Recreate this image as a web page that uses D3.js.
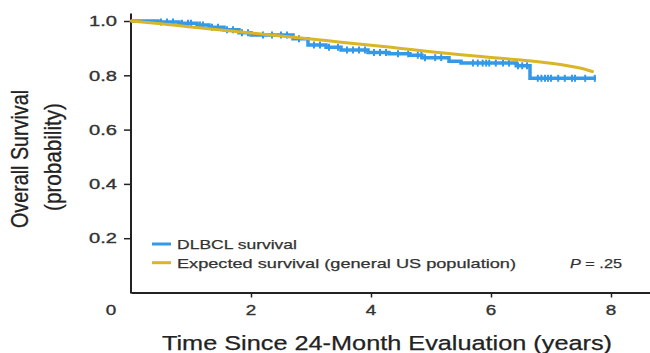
<!DOCTYPE html>
<html>
<head>
<meta charset="utf-8">
<script src="https://cdn.jsdelivr.net/npm/d3@7/dist/d3.min.js"></script>
<style>
  html, body { margin: 0; padding: 0; background: #fff; }
  svg { display: block; }
</style>
</head>
<body>
<svg id="chart" width="650" height="353"></svg>
<script>
// Kaplan-Meier estimate for the DLBCL cohort (step changes)
const kmTimes    = [0, 0.45, 0.8, 1.1, 1.3, 1.55, 1.8, 2.0, 2.7, 2.95, 3.25, 3.5, 3.95, 4.3, 4.65, 4.85, 5.3, 5.5, 6.42, 6.65, 7.75];
const kmSurvival = [1.0, 0.996, 0.992, 0.985, 0.977, 0.968, 0.957, 0.948, 0.935, 0.912, 0.903, 0.893, 0.884, 0.879, 0.874, 0.865, 0.852, 0.845, 0.835, 0.789, 0.789];

// Censored observations (years)
const censorTimes = [0.5, 0.6, 0.7, 0.85, 0.95, 1.0, 1.15, 1.2, 1.35, 1.45, 1.6, 1.7, 1.85, 1.95,
  2.2, 2.35, 2.5, 2.6, 2.8, 3.05, 3.15, 3.3, 3.45, 3.6, 3.7, 3.8, 3.9, 4.05, 4.15, 4.25,
  4.45, 4.62, 4.78, 4.84, 4.9, 5.07, 5.17, 5.7, 5.78, 5.86, 5.92, 5.97, 6.08, 6.2, 6.3,
  6.45, 6.52, 6.6, 6.78, 6.84, 6.9, 6.95, 7.0, 7.12, 7.23, 7.35, 7.4, 7.57, 7.73];

// Expected survival of the matched general US population
const expTimes    = [0, 0.5, 1, 1.5, 2, 2.5, 3, 3.5, 4, 4.5, 5, 5.5, 6, 6.5, 7, 7.3, 7.5, 7.69];
const expSurvival = [1.0, 0.99, 0.978, 0.967, 0.956, 0.945, 0.934, 0.922, 0.911, 0.899, 0.887, 0.876, 0.866, 0.856, 0.844, 0.834, 0.826, 0.814];

const xTicks = [2, 4, 6, 8];
const yTicks = [0.2, 0.4, 0.6, 0.8, 1.0];

const blue = "#3399e8";
const gold = "#dab526";
const ink = "#222";
const font = "'Liberation Sans', Arial, Helvetica, sans-serif";

const svg = d3.select("#chart");
const x = d3.scaleLinear().domain([0, 8.65]).range([131, 650]);
const y = d3.scaleLinear().domain([0, 1]).range([292.5, 21]);

// axes
const xAxis = svg.append("g")
  .attr("transform", `translate(0,${y(0)})`)
  .call(d3.axisBottom(x).tickValues(xTicks).tickSize(5).tickSizeOuter(0).tickFormat(d3.format("d")));
xAxis.select(".domain").attr("stroke", ink).attr("stroke-width", 2);
xAxis.selectAll(".tick line").attr("stroke", ink).attr("stroke-width", 1.5);
xAxis.selectAll(".tick text").remove();

const yAxis = svg.append("g")
  .attr("transform", `translate(${x(0)},0)`)
  .call(d3.axisLeft(y).tickValues(yTicks).tickSize(7).tickSizeOuter(0).tickFormat(d3.format(".1f")));
yAxis.select(".domain").remove();
yAxis.selectAll(".tick line").attr("stroke", ink).attr("stroke-width", 1.5);
yAxis.selectAll(".tick text").remove();
svg.append("line")
  .attr("x1", x(0)).attr("x2", x(0))
  .attr("y1", y(1.028)).attr("y2", y(0) + 1)
  .attr("stroke", ink).attr("stroke-width", 2);

// tick labels
svg.append("g").selectAll("text").data(yTicks).join("text")
  .attr("x", 117).attr("y", d => y(d) + 5.2)
  .attr("text-anchor", "end")
  .attr("font-family", font).attr("font-size", 14.5).attr("fill", "#333")
  .attr("stroke", "#333").attr("stroke-width", 0.35)
  .attr("textLength", 28).attr("lengthAdjust", "spacingAndGlyphs")
  .text(d3.format(".1f"));

svg.append("g").selectAll("text").data([0].concat(xTicks)).join("text")
  .attr("x", d => d === 0 ? 111 : x(d)).attr("y", 314.5)
  .attr("text-anchor", "middle")
  .attr("font-family", font).attr("font-size", 14.5).attr("fill", "#333")
  .attr("stroke", "#333").attr("stroke-width", 0.35)
  .attr("textLength", 10.5).attr("lengthAdjust", "spacingAndGlyphs")
  .text(d => d);

// axis titles
svg.append("text")
  .attr("x", 387).attr("y", 349.5)
  .attr("text-anchor", "middle")
  .attr("font-family", font).attr("font-size", 20.5).attr("fill", ink)
  .attr("stroke", ink).attr("stroke-width", 0.25)
  .attr("textLength", 450).attr("lengthAdjust", "spacingAndGlyphs")
  .text("Time Since 24-Month Evaluation (years)");

svg.append("text")
  .attr("transform", "translate(28,159) scale(1.2,1) rotate(-90)")
  .attr("text-anchor", "middle")
  .attr("font-family", font).attr("font-size", 19.5).attr("fill", ink)
  .attr("stroke", ink).attr("stroke-width", 0.25)
  .attr("textLength", 138).attr("lengthAdjust", "spacingAndGlyphs")
  .text("Overall Survival");

svg.append("text")
  .attr("transform", "translate(61,157) scale(1.2,1) rotate(-90)")
  .attr("text-anchor", "middle")
  .attr("font-family", font).attr("font-size", 19.5).attr("fill", ink)
  .attr("stroke", ink).attr("stroke-width", 0.25)
  .attr("textLength", 108).attr("lengthAdjust", "spacingAndGlyphs")
  .text("(probability)");

// DLBCL Kaplan-Meier step curve
const km = kmTimes.map((t, i) => ({ t, s: kmSurvival[i] }));
const kmAt = t => {
  let s = kmSurvival[0];
  for (let i = 0; i < kmTimes.length; i++) if (kmTimes[i] <= t) s = kmSurvival[i];
  return s;
};

svg.append("path")
  .datum(km)
  .attr("fill", "none")
  .attr("stroke", blue).attr("stroke-width", 3.5)
  .attr("d", d3.line().x(d => x(d.t)).y(d => y(d.s)).curve(d3.curveStepAfter));

svg.append("g").selectAll("line").data(censorTimes).join("line")
  .attr("x1", d => x(d)).attr("x2", d => x(d))
  .attr("y1", d => y(kmAt(d)) - 3.5).attr("y2", d => y(kmAt(d)) + 3.5)
  .attr("stroke", blue).attr("stroke-width", 2);

// expected survival curve
const exp = expTimes.map((t, i) => ({ t, s: expSurvival[i] }));
svg.append("path")
  .datum(exp)
  .attr("fill", "none")
  .attr("stroke", gold).attr("stroke-width", 3)
  .attr("stroke-linecap", "round")
  .attr("d", d3.line().x(d => x(d.t)).y(d => y(d.s)).curve(d3.curveMonotoneX));

// legend
const legend = [
  { label: "DLBCL survival", color: blue, y: 244, w: 120 },
  { label: "Expected survival (general US population)", color: gold, y: 262.7, w: 339 }
];
const lg = svg.append("g").selectAll("g").data(legend).join("g");
lg.append("line")
  .attr("x1", 152).attr("x2", 171)
  .attr("y1", d => d.y).attr("y2", d => d.y)
  .attr("stroke", d => d.color).attr("stroke-width", 3);
lg.append("text")
  .attr("x", 177).attr("y", d => d.y + 4.8)
  .attr("font-family", font).attr("font-size", 13.5).attr("fill", "#333")
  .attr("stroke", "#333").attr("stroke-width", 0.25)
  .attr("textLength", d => d.w).attr("lengthAdjust", "spacingAndGlyphs")
  .text(d => d.label);

const pText = svg.append("text")
  .attr("x", 570).attr("y", 268)
  .attr("font-family", font).attr("font-size", 13.5).attr("fill", "#333")
  .attr("stroke", "#333").attr("stroke-width", 0.25)
  .attr("textLength", 52).attr("lengthAdjust", "spacingAndGlyphs");
pText.append("tspan").attr("font-style", "italic").text("P");
pText.append("tspan").text(" = .25");
</script>
</body>
</html>
